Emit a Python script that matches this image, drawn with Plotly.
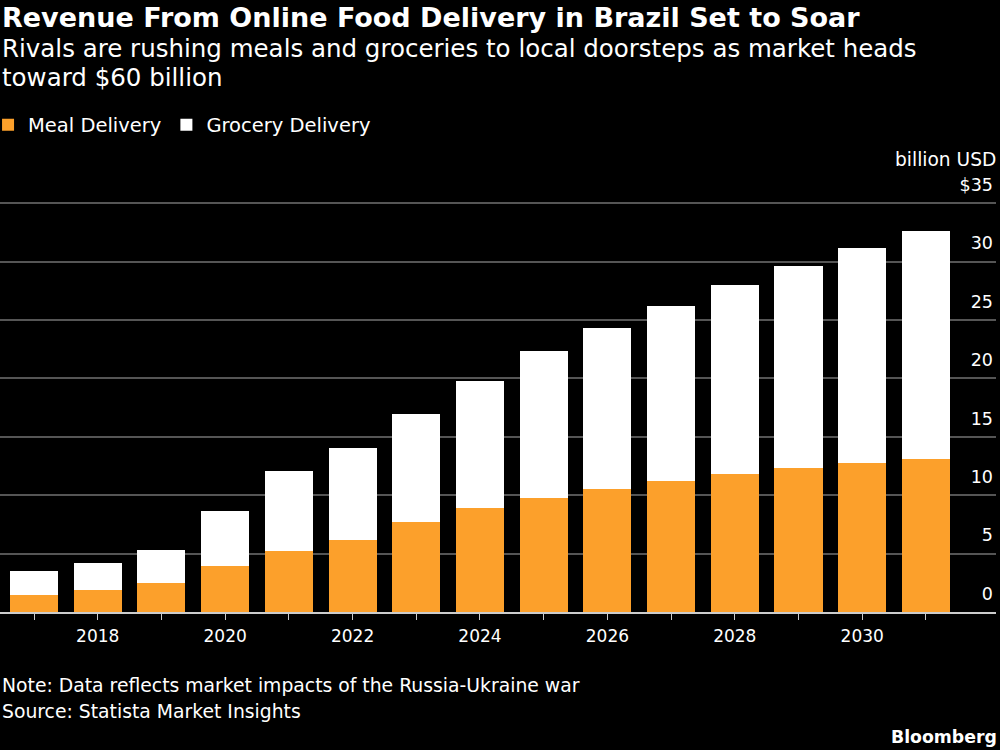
import plotly.graph_objects as go

years = list(range(2017, 2032))
meal = [1.45, 1.86, 2.45, 3.91, 5.22, 6.18, 7.67, 8.87, 9.78, 10.55, 11.2, 11.8, 12.29, 12.74, 13.11]
grocery = [2.06, 2.33, 2.83, 4.70, 6.82, 7.88, 9.27, 10.87, 12.55, 13.75, 15.0, 16.17, 17.31, 18.42, 19.48]
ytick_vals = [0, 5, 10, 15, 20, 25, 30, 35]
ytick_text = ["0", "5", "10", "15", "20", "25", "30", "$35"]
xtick_text = [str(y) if y % 2 == 0 else "" for y in years]

ORANGE = "#FCA02B"
FONT = "DejaVu Sans"
W, H = 1000, 750
T, B = 202, 138
PH = H - T - B

def py(p):
    return (H - B - p) / PH

fig = go.Figure()
fig.add_trace(go.Bar(x=years, y=meal, name="Meal Delivery", marker=dict(color=ORANGE, line=dict(width=0))))
fig.add_trace(go.Bar(x=years, y=grocery, name="Grocery Delivery", marker=dict(color="#FFFFFF", line=dict(width=0))))

fig.update_layout(
    width=W, height=H,
    barmode="stack", bargap=0.246,
    paper_bgcolor="#000000", plot_bgcolor="#000000",
    margin=dict(l=0, r=4, t=T, b=B, autoexpand=False),
    font=dict(family=FONT, color="#FFFFFF", size=19),
    showlegend=True,
    legend=dict(orientation="h", x=-0.012, xanchor="left", y=py(125), yanchor="middle",
                font=dict(size=19.5, color="#FFFFFF"), traceorder="normal",
                bgcolor="rgba(0,0,0,0)", itemsizing="constant"),
    xaxis=dict(range=[2016.466, 2032.10], tickmode="array", tickvals=years, ticktext=xtick_text,
               ticks="outside", ticklen=6, tickcolor="#CCCCCC", showgrid=False, ticklabelstandoff=2,
               showline=True, linecolor="#CCCCCC", linewidth=1.5, zeroline=False,
               tickfont=dict(size=17, color="#FFFFFF")),
    yaxis=dict(range=[0, 35.1], side="right", tickmode="array", tickvals=ytick_vals, ticktext=ytick_text,
               ticklabelposition="inside top", ticklabeloverflow="allow", ticks="", ticklabelshift=-6,
               showgrid=True, gridcolor="#555555", gridwidth=1.5, zeroline=False,
               tickfont=dict(size=17.5, color="#FFFFFF")),
)

LX = 0
ann = [
    dict(text="<b>Revenue From Online Food Delivery in Brazil Set to Soar</b>", x=LX, y=py(17), size=27),
    dict(text="Rivals are rushing meals and groceries to local doorsteps as market heads", x=LX, y=py(48), size=24.5),
    dict(text="toward $60 billion", x=LX, y=py(78), size=24.5),
    dict(text="Note: Data reflects market impacts of the Russia-Ukraine war", x=LX, y=py(685), size=18.8),
    dict(text="Source: Statista Market Insights", x=LX, y=py(711), size=18.8),
]
for a in ann:
    fig.add_annotation(text=a["text"], xref="paper", yref="paper", x=a["x"], y=a["y"],
                       xanchor="left", yanchor="middle", showarrow=False,
                       font=dict(size=a["size"], color="#FFFFFF", family=FONT))
fig.add_annotation(text="billion USD", xref="paper", yref="paper", x=1.002, y=py(160),
                   xanchor="right", yanchor="middle", showarrow=False,
                   font=dict(size=18.6, color="#FFFFFF", family=FONT))
fig.add_annotation(text="<b>Bloomberg</b>", xref="paper", yref="paper", x=1.003, y=py(737),
                   xanchor="right", yanchor="middle", showarrow=False,
                   font=dict(size=17.3, color="#FFFFFF", family=FONT))

fig.write_html("out.html")
